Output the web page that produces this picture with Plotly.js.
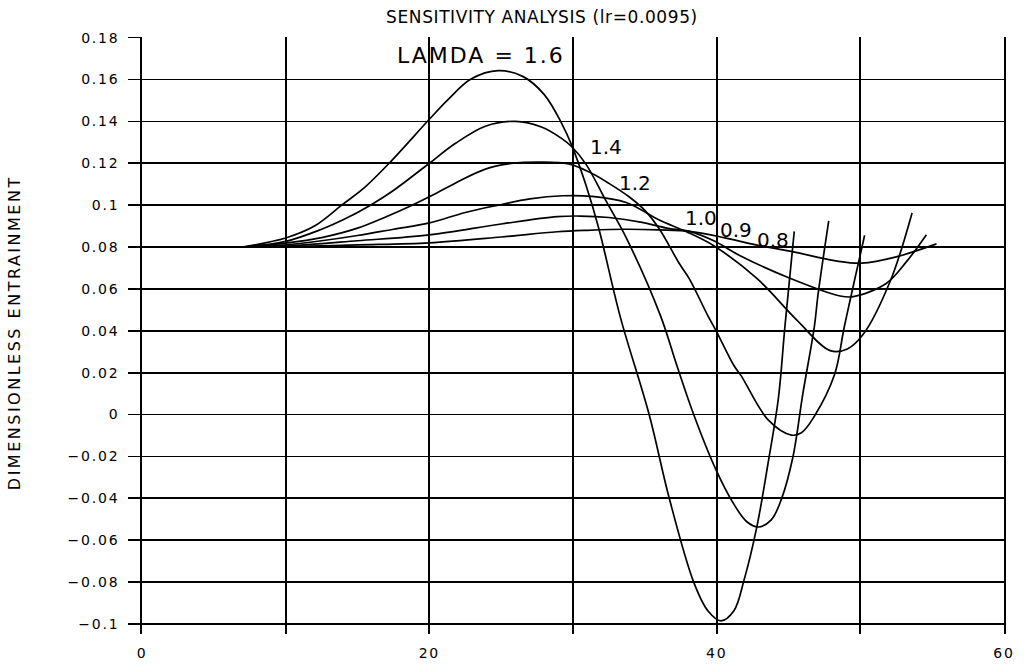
<!DOCTYPE html>
<html>
<head>
<meta charset="utf-8">
<script src="https://cdn.plot.ly/plotly-3.0.1.min.js"></script>
<style>
  html, body { margin: 0; padding: 0; background: #fff; }
  #chart { width: 1026px; height: 672px; }
  .ytick text, .xtick text { letter-spacing: 1.8px; }
  .gtitle { letter-spacing: 0.6px; }
  .annotation[data-index="0"] text { letter-spacing: 2.5px; }
  .annotation[data-index="1"] text { letter-spacing: 2px; }
</style>
</head>
<body>
<div id="chart"></div>
<script>
// ---- Data (x: distance, y: dimensionless entrainment) ----
const chartTitle = 'SENSITIVITY ANALYSIS (lr=0.0095)';
const yAxisTitle = 'DIMENSIONLESS ENTRAINMENT';
const lamdaNames = ['1.6', '1.4', '1.2', '1.0', '0.9', '0.8'];

const x16 = [7, 10, 12, 13.9, 15.5, 17.2, 20, 21.3, 22.9, 24.8, 26.5, 28.0, 29.2, 29.9, 30.9, 31.8, 33.3, 35.3, 36.7, 38.4, 39.4, 40.3, 41.2, 41.9, 42.8, 43.6, 44.3, 44.75, 45.4];
const y16 = [0.08, 0.0843, 0.09, 0.10, 0.1085, 0.120, 0.141, 0.1504, 0.1602, 0.1642, 0.1615, 0.1528, 0.1392, 0.1288, 0.1096, 0.0887, 0.0464, 0.0, -0.04, -0.08, -0.0938, -0.0985, -0.0937, -0.0792, -0.0535, -0.0223, 0.008, 0.042, 0.0875];

const x14 = [7, 10, 12.5, 14, 15.9, 17.5, 20, 21.8, 23.9, 26.0, 27.8, 29.2, 29.9, 30.9, 32.3, 33.7, 36.1, 37.2, 38.4, 39.9, 41.1, 42.1, 42.9, 43.8, 44.5, 45.3, 46.0, 46.8, 47.05, 47.8];
const y14 = [0.08, 0.0827, 0.0885, 0.093, 0.10, 0.107, 0.12, 0.1294, 0.1377, 0.14, 0.1373, 0.1319, 0.128, 0.1196, 0.102, 0.0845, 0.047, 0.024, 0.0, -0.0256, -0.0417, -0.0512, -0.0537, -0.0503, -0.0405, -0.0205, 0.01, 0.042, 0.057, 0.0925];

const x12 = [7, 10, 12.5, 15, 17, 18.8, 20, 21.8, 23.9, 25.7, 27.8, 29.7, 31.1, 32.5, 33.9, 35.0, 36.0, 37.4, 38.1, 39.4, 39.9, 41.2, 41.7, 43.6, 45.2, 45.9, 46.8, 48.2, 48.9, 50.3];
const y12 = [0.08, 0.0819, 0.0845, 0.089, 0.0945, 0.10, 0.104, 0.1105, 0.1172, 0.1199, 0.1206, 0.1197, 0.1159, 0.1104, 0.104, 0.0975, 0.0887, 0.0721, 0.0648, 0.047, 0.0408, 0.0234, 0.0186, -0.0027, -0.0098, -0.0087, -0.0008, 0.019, 0.0424, 0.0856];

const x10 = [7, 10, 12.5, 15, 17.5, 20, 22.5, 24.8, 27, 29.3, 31.3, 33.7, 36.0, 37.9, 39.8, 42.8, 45.6, 47.9, 49.1, 50.2, 52.1, 53.6];
const y10 = [0.08, 0.081, 0.083, 0.0855, 0.0885, 0.0915, 0.0965, 0.10, 0.103, 0.1045, 0.1042, 0.1013, 0.0929, 0.0873, 0.0806, 0.065, 0.045, 0.0305, 0.0313, 0.0383, 0.064, 0.0963];

const x09 = [7, 10, 15, 20, 25, 28.9, 30.5, 32.5, 34.8, 36.7, 38.1, 39.8, 41.6, 45.1, 48.6, 49.5, 51.8, 53.2, 54.6];
const y09 = [0.08, 0.0805, 0.083, 0.0858, 0.091, 0.0945, 0.0948, 0.0941, 0.0918, 0.0888, 0.0875, 0.083, 0.076, 0.0651, 0.0566, 0.0563, 0.0626, 0.0729, 0.0859];

const x08 = [7, 10, 15, 20, 25, 28.9, 31, 33.7, 36.0, 38.1, 40.5, 42.8, 45.2, 48.3, 50.1, 52.5, 55.3];
const y08 = [0.08, 0.0802, 0.081, 0.082, 0.0848, 0.0873, 0.088, 0.0885, 0.0882, 0.0875, 0.0845, 0.0809, 0.0779, 0.0734, 0.0723, 0.0753, 0.0815];

const seriesX = [x16, x14, x12, x10, x09, x08];
const seriesY = [y16, y14, y12, y10, y09, y08];

// Curve labels as drawn on the chart
const labelTexts = ['LAMDA = 1.6', '1.4', '1.2', '1.0', '0.9', '0.8'];
const labelX = [18.4, 31.05, 33.05, 37.65, 40.1, 42.7];
const labelY = [0.1714, 0.128, 0.1106, 0.0941, 0.0879, 0.0834];

// ---- Build chart ----
const font = 'DejaVu Sans, Verdana, sans-serif';
const traces = seriesX.map((xs, i) => ({
  type: 'scatter', mode: 'lines', name: lamdaNames[i],
  x: xs, y: seriesY[i],
  line: { color: '#000', width: 1.7, shape: 'spline', smoothing: 1.0 },
  hoverinfo: 'skip'
}));

const annotations = [
  {
    text: yAxisTitle, xref: 'paper', yref: 'paper', x: -0.148, y: 0.505,
    xanchor: 'center', yanchor: 'middle', textangle: -90, showarrow: false,
    font: { family: font, size: 16, color: '#000' }
  }
].concat(labelTexts.map((t, i) => ({
  text: t, xref: 'x', yref: 'y', x: labelX[i], y: labelY[i],
  xanchor: 'left', yanchor: 'middle', showarrow: false,
  font: { family: font, size: i === 0 ? 22 : 20, color: '#000' }
})));

const layout = {
  width: 1026, height: 672,
  paper_bgcolor: '#fff', plot_bgcolor: '#fff',
  margin: { l: 142, r: 22, t: 37, b: 38 },
  showlegend: false,
  font: { family: font, color: '#000' },
  title: {
    text: chartTitle, xref: 'paper', x: 0.464, xanchor: 'center',
    yref: 'container', y: 0.974, yanchor: 'middle',
    font: { family: font, size: 17, color: '#000' }
  },
  xaxis: {
    range: [0, 60], dtick: 20, tick0: 0,
    showgrid: true, gridcolor: '#000', gridwidth: 1.7,
    minor: { dtick: 10, showgrid: true, gridcolor: '#000', gridwidth: 1.7 },
    zeroline: false, showline: false,
    ticks: '', ticklabelstandoff: 9,
    tickfont: { family: font, size: 14, color: '#000' }
  },
  yaxis: {
    range: [-0.1048, 0.1803], dtick: 0.02, tick0: 0,
    showgrid: true, gridcolor: '#000', gridwidth: 1.7,
    zeroline: false,
    showline: true, linecolor: '#000', linewidth: 1.7, mirror: true,
    ticks: 'outside', ticklen: 12, tickwidth: 1.7, tickcolor: '#000',
    ticklabelstandoff: 6,
    tickfont: { family: font, size: 14, color: '#000' }
  },
  annotations: annotations
};

Plotly.newPlot('chart', traces, layout, { displayModeBar: false, staticPlot: true });
</script>
</body>
</html>
